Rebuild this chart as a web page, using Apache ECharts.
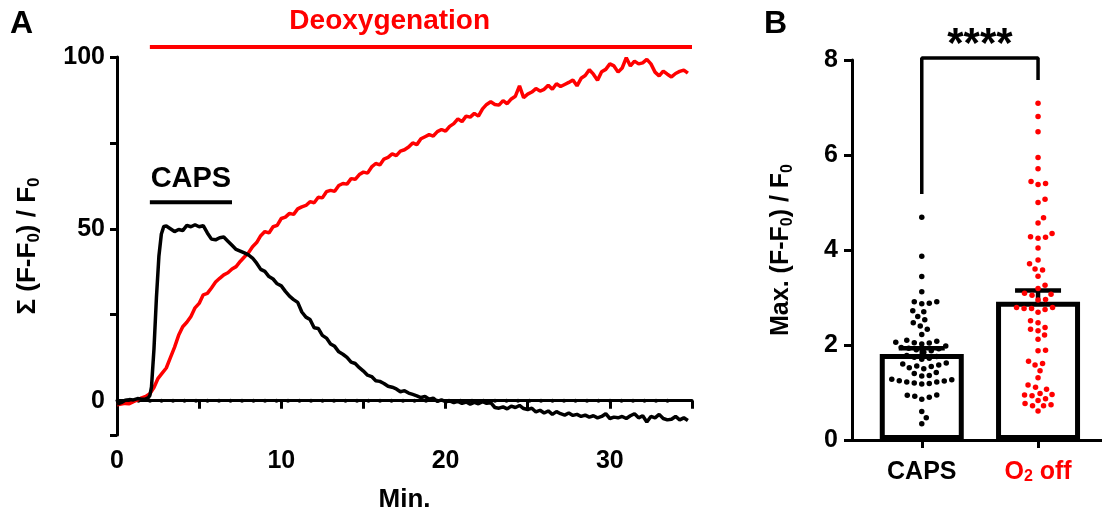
<!doctype html>
<html>
<head>
<meta charset="utf-8">
<title>Deoxygenation vs CAPS</title>
<script src="https://cdn.jsdelivr.net/npm/echarts@6/dist/echarts.min.js"></script>
<style>
  html, body {margin:0; padding:0; background:#fff;}
  #main {width:1102px; height:518px;}
</style>
</head>
<body>
<div id="main"></div>
<script>
"use strict";
// ---- panel A : cumulative (F-F0)/F0 over time ----
var deoxMin = [
  0,0.25,0.5,0.75, 1,1.25,1.5,1.75, 2,2.25,2.5,2.75, 3,3.25,3.5,3.75, 4,4.25,4.5,4.75,
  5,5.25,5.5,5.75, 6,6.25,6.5,6.75, 7,7.25,7.5,7.75, 8,8.25,8.5,8.75, 9,9.25,9.5,9.75,
  10,10.25,10.5,10.75, 11,11.25,11.5,11.75, 12,12.25,12.5,12.75, 13,13.25,13.5,13.75,
  14,14.25,14.5,14.75, 15,15.25,15.5,15.75, 16,16.25,16.5,16.75, 17,17.25,17.5,17.75,
  18,18.25,18.5,18.75, 19,19.25,19.5,19.75, 20,20.25,20.5,20.75, 21,21.25,21.5,21.75,
  22,22.25,22.5,22.75, 23,23.25,23.5,23.75, 24,24.25,24.5,24.75, 25,25.25,25.5,25.75,
  26,26.25,26.5,26.75, 27,27.25,27.5,27.75, 28,28.25,28.5,28.75, 29,29.25,29.5,29.75,
  30,30.25,30.5,30.75, 31,31.25,31.5,31.75, 32,32.25,32.5,32.75, 33,33.25,33.5,33.75,
  34,34.25,34.5,34.75
];
var deoxVal = [
  -1.2,-1.0,-0.8,-0.9, -0.3,0.2,0.8,1.2, 2.0,3.8,6.5,8.0, 9.5,12.5,15.5,19.0,
  21.5,22.8,24.5,27.0, 28.3,30.8,31.2,32.8, 34.5,35.6,36.6,37.2, 38.3,39.0,40.5,41.8,
  43.0,44.8,46.0,48.0, 49.2,48.8,50.6,51.0, 53.0,53.4,54.5,54.2, 55.8,56.4,56.8,57.9,
  57.6,59.2,59.0,60.8, 61.2,60.9,62.6,63.2, 63.0,64.6,64.4,65.8, 66.5,66.2,68.0,69.0,
  68.6,70.3,70.8,71.8, 71.3,72.6,73.0,73.8, 75.0,74.5,76.2,76.8, 77.4,77.0,78.3,78.9,
  78.4,79.8,80.6,82.0, 81.2,82.8,82.5,83.6, 82.8,84.9,86.2,87.0, 86.2,86.0,87.3,86.4,
  87.8,88.6,91.6,88.2, 89.2,89.8,90.8,90.1, 90.6,91.8,90.6,92.2, 91.4,92.0,92.6,93.3,
  91.6,93.8,94.6,96.3, 95.0,93.2,95.7,96.4, 98.0,97.4,95.6,96.8, 99.8,97.4,98.8,98.0,
  98.3,99.3,98.0,95.6, 94.5,95.9,95.0,94.2, 95.2,95.8,96.2,95.3
];
var capsMin = [
  0,0.25,0.5,0.75, 1,1.25,1.5,1.75, 1.9,2,2.1,2.25,2.4,2.55,2.7,2.85,
  3,3.25,3.5,3.75, 4,4.25,4.5,4.75, 5,5.25,5.5,5.75, 6,6.25,6.5,6.75, 7,7.25,7.5,7.75,
  8,8.25,8.5,8.75, 9,9.25,9.5,9.75, 10,10.25,10.5,10.75, 11,11.25,11.5,11.75,
  12,12.25,12.5,12.75, 13,13.25,13.5,13.75, 14,14.25,14.5,14.75, 15,15.25,15.5,15.75,
  16,16.25,16.5,16.75, 17,17.25,17.5,17.75, 18,18.25,18.5,18.75, 19,19.25,19.5,19.75,
  20,20.25,20.5,20.75, 21,21.25,21.5,21.75, 22,22.25,22.5,22.75, 23,23.25,23.5,23.75,
  24,24.25,24.5,24.75, 25,25.25,25.5,25.75, 26,26.25,26.5,26.75, 27,27.25,27.5,27.75,
  28,28.25,28.5,28.75, 29,29.25,29.5,29.75, 30,30.25,30.5,30.75, 31,31.25,31.5,31.75,
  32,32.25,32.5,32.75, 33,33.25,33.5,33.75, 34,34.25,34.5,34.75
];
var capsVal = [
  -1.0,-0.6,0.1,0.3, 0.2,0.6,0.4,0.5, 0.8,1.5,4.0,15.0,30.0,42.0,48.5,50.7,
  50.8,50.0,49.2,49.8, 49.5,51.0,50.6,51.2, 50.6,50.9,48.8,47.0, 46.8,47.4,47.6,46.4,
  45.2,44.0,43.5,43.0, 42.4,41.5,40.0,38.2, 37.6,36.1,35.4,34.0, 33.4,31.8,30.4,29.4,
  28.6,25.8,24.3,23.6, 21.2,21.0,19.0,18.2, 16.5,15.8,14.2,13.5, 12.6,11.2,10.8,9.6,
  8.6,7.4,7.0,5.8, 5.6,5.0,4.2,3.9, 3.4,2.6,2.9,2.2, 1.8,1.4,0.9,1.2, 0.4,0.7,-0.2,0.2,
  -0.3,-0.1,-0.6,-0.2, -0.8,-0.4,-1.0,-0.5, -0.9,-0.3,-0.8,-0.6, -2.0,-2.2,-1.8,-2.4,
  -1.6,-2.0,-1.4,-2.3, -2.6,-2.2,-3.3,-2.8, -3.6,-3.0,-4.0,-3.2, -3.8,-4.2,-3.6,-4.3,
  -4.0,-4.6,-4.2,-4.8, -4.4,-5.0,-4.6,-3.8, -5.2,-4.8,-5.0,-4.6, -5.2,-4.4,-3.8,-5.0,
  -4.4,-6.2,-4.6,-5.0, -4.0,-5.2,-5.6,-5.4, -4.6,-5.6,-5.0,-5.8
];
var capsPeriod = [2, 7];
var deoxPeriod = [2, 35];
var baseline = [0, 34];
var xTicksA = [0, 10, 20, 30];

// ---- panel B : max (F-F0)/F0 per cell ----
var groups = ['CAPS', 'O2 off'];
var capsMax = [
  4.69, 3.87, 3.44, 3.12, 2.91, 2.88, 2.91, 2.87, 2.72, 2.70, 2.60, 2.53, 2.47, 2.40,
  2.33, 2.22, 2.10, 2.06, 2.04, 2.08, 2.02, 2.05, 1.98, 1.95, 1.90, 1.92, 1.88, 1.85,
  1.93, 1.76, 1.72, 1.74, 1.70, 1.78, 1.62, 1.56, 1.58, 1.55, 1.60, 1.52, 1.50, 1.42,
  1.36, 1.40, 1.35, 1.28, 1.22, 1.25, 1.20, 1.24, 1.18, 1.27, 1.22, 1.19, 0.95, 0.92,
  0.86, 0.90, 0.94, 0.60, 0.47, 0.34
];
var o2Max = [
  7.09, 6.81, 6.49, 5.95, 5.71, 5.38, 5.44, 5.40, 5.00, 5.07, 4.68, 4.57, 4.35, 4.25,
  4.28, 4.27, 4.04, 3.79, 3.71, 3.58, 3.60, 3.45, 3.26, 3.19, 3.05, 3.07, 3.09, 2.95,
  2.96, 2.79, 2.77, 2.79, 2.75, 2.77, 2.69, 2.47, 2.51, 2.37, 2.30, 2.33, 2.21, 2.12,
  1.88, 1.89, 1.66, 1.58, 1.61, 1.46, 1.31, 1.16, 1.07, 1.11, 0.93, 0.83, 0.72, 0.95,
  0.96, 0.98, 0.87, 0.74, 0.77, 0.72, 0.61
];
var barMean = [1.81, 2.91];
var barSemLow = [1.72, 2.72];
var barSemHigh = [1.93, 3.15];

var FONT = 'Liberation Sans';
var RED = '#ff0000';

// text notes placed in data coordinates: [x, y, text, colour, size]
var notesA = [[16.6, 110.5, 'Deoxygenation', RED, 28], [4.5, 64.5, 'CAPS', '#000', 29]];
var notesB = [[1.5, 8.3, '****', '#000', 42]];

function zip(a, b) {
  var out = [];
  for (var i = 0; i < a.length; i++) out.push([a[i], b[i]]);
  return out;
}
var bold = function (size, color) {
  return {fontFamily: FONT, fontWeight: 'bold', fontSize: size, color: color || '#000'};
};
function noteSeries(axis, notes) {
  return {
    type: 'custom', xAxisIndex: axis, yAxisIndex: axis, silent: true, clip: false,
    data: notes.map(function (n, i) { return [n[0], n[1], i]; }),
    renderItem: function (params, api) {
      var n = notes[api.value(2)];
      var p = api.coord([n[0], n[1]]);
      return {type: 'text', x: p[0], y: p[1], style: {
        text: n[2], fill: n[3], align: 'center', verticalAlign: 'middle',
        font: 'bold ' + n[4] + 'px "' + FONT + '"'}};
    }
  };
}

var option = {
  animation: false,
  backgroundColor: '#fff',
  title: [
    {text: 'A', left: 10, top: 8, padding: 0, textStyle: bold(32)},
    {text: 'B', left: 764, top: 8, padding: 0, textStyle: bold(32)}
  ],
  grid: [
    {left: 117, top: 57, width: 575, height: 379},
    {left: 852, top: 60, width: 250, height: 380}
  ],
  xAxis: [{
    gridIndex: 0, type: 'value', min: 0, max: 35, interval: 5,
    name: 'Min.', nameLocation: 'middle', nameGap: 52, nameTextStyle: bold(26),
    axisLine: {lineStyle: {color: '#000', width: 3}},
    axisTick: {length: 8, lineStyle: {color: '#000', width: 3}},
    axisLabel: Object.assign({margin: 14, customValues: xTicksA}, bold(25)),
    splitLine: {show: false}
  }, {
    gridIndex: 1, type: 'value', min: 0.4, max: 2.55,
    axisLine: {lineStyle: {color: '#000', width: 3}},
    axisTick: {length: 8, customValues: [1, 2], lineStyle: {color: '#000', width: 3}},
    axisLabel: {
      margin: 20, customValues: [1, 2],
      formatter: function (v) { return v === 1 ? '{k|' + groups[0] + '}' : '{r|O}{rs|2}{r| off}'; },
      rich: {
        k: bold(25),
        r: bold(25, RED),
        rs: Object.assign(bold(16, RED), {verticalAlign: 'bottom', lineHeight: 16})
      }
    },
    splitLine: {show: false}
  }],
  yAxis: [{
    gridIndex: 0, type: 'value', min: -10, max: 100,
    name: '{n|Σ (F-F}{s|0}{n|) / F}{s|0}', nameLocation: 'middle', nameGap: 74, nameRotate: 90,
    nameTextStyle: {
      rich: {
        n: Object.assign(bold(26), {lineHeight: 30}),
        s: Object.assign(bold(17), {verticalAlign: 'bottom', lineHeight: 17})
      }
    },
    axisLine: {lineStyle: {color: '#000', width: 3}},
    axisTick: {length: 7, customValues: [-10, 25, 50, 75, 100], lineStyle: {color: '#000', width: 3}},
    axisLabel: Object.assign({margin: 12, customValues: [0, 50, 100]}, bold(25)),
    splitLine: {show: false}
  }, {
    gridIndex: 1, type: 'value', min: 0, max: 8, interval: 2,
    name: '{n|Max. (F-F}{s|0}{n|) / F}{s|0}', nameLocation: 'middle', nameGap: 56, nameRotate: 90,
    nameTextStyle: {
      rich: {
        n: Object.assign(bold(25), {lineHeight: 30}),
        s: Object.assign(bold(16), {verticalAlign: 'bottom', lineHeight: 16})
      }
    },
    axisLine: {lineStyle: {color: '#000', width: 3}},
    axisTick: {length: 8, lineStyle: {color: '#000', width: 3}},
    axisLabel: Object.assign({margin: 14}, bold(25)),
    splitLine: {show: false}
  }],
  series: [
    // dotted zero line, drawn as a row of small round dots
    {type: 'custom', xAxisIndex: 0, yAxisIndex: 0, silent: true, z: 1,
      data: [[baseline[0], baseline[1]]],
      renderItem: function (params, api) {
        var a = api.coord([api.value(0), 0]);
        var b = api.coord([api.value(1), 0]);
        var dots = [];
        for (var x = a[0] + 10; x <= b[0] + 0.5; x += 11.5) {
          dots.push({type: 'circle', shape: {cx: x, cy: a[1], r: 2}, style: {fill: '#000'}});
        }
        return {type: 'group', children: dots};
      }},
    {type: 'line', xAxisIndex: 0, yAxisIndex: 0, symbol: 'none', z: 2,
      data: zip(deoxMin, deoxVal), lineStyle: {color: RED, width: 3.5}},
    {type: 'line', xAxisIndex: 0, yAxisIndex: 0, symbol: 'none', z: 2,
      data: zip(capsMin, capsVal), lineStyle: {color: '#000', width: 3.5}},
    // treatment bars
    {type: 'line', xAxisIndex: 0, yAxisIndex: 0, symbol: 'none', clip: false,
      data: [[deoxPeriod[0], 102.9], [deoxPeriod[1], 102.9]], lineStyle: {color: RED, width: 4}},
    {type: 'line', xAxisIndex: 0, yAxisIndex: 0, symbol: 'none', clip: false,
      data: [[capsPeriod[0], 57.7], [capsPeriod[1], 57.7]], lineStyle: {color: '#000', width: 4}},
    noteSeries(0, notesA),
    // panel B bars
    {type: 'bar', xAxisIndex: 1, yAxisIndex: 1, barWidth: 84,
      data: [[1, barMean[0]], [2, barMean[1]]],
      itemStyle: {color: '#fff', borderColor: '#000', borderWidth: 5}},
    {type: 'custom', xAxisIndex: 1, yAxisIndex: 1,
      data: [[1, barSemLow[0], barSemHigh[0]], [2, barSemLow[1], barSemHigh[1]]],
      encode: {x: 0, y: [1, 2]},
      renderItem: function (params, api) {
        var lo = api.coord([api.value(0), api.value(1)]);
        var hi = api.coord([api.value(0), api.value(2)]);
        var w = 23, st = {stroke: '#000', lineWidth: 4.5};
        return {type: 'group', children: [
          {type: 'line', shape: {x1: lo[0], y1: lo[1], x2: hi[0], y2: hi[1]}, style: st},
          {type: 'line', shape: {x1: lo[0] - w, y1: lo[1], x2: lo[0] + w, y2: lo[1]}, style: st},
          {type: 'line', shape: {x1: hi[0] - w, y1: hi[1], x2: hi[0] + w, y2: hi[1]}, style: st}
        ]};
      }},
    {id: 'capsDots', type: 'scatter', xAxisIndex: 1, yAxisIndex: 1, symbolSize: 5.5,
      itemStyle: {color: '#000', opacity: 1}, data: []},
    {id: 'o2Dots', type: 'scatter', xAxisIndex: 1, yAxisIndex: 1, symbolSize: 5.5,
      itemStyle: {color: RED, opacity: 1}, data: []},
    // significance bracket
    {type: 'line', xAxisIndex: 1, yAxisIndex: 1, symbol: 'none', clip: false,
      data: [[1, 5.18], [1, 8.04], [2, 8.04], [2, 7.58]], lineStyle: {color: '#000', width: 3.5}},
    noteSeries(1, notesB)
  ]
};

var chart = echarts.init(document.getElementById('main'));
chart.setOption(option);

// beeswarm: spread dots sideways so they do not overlap (in pixel space)
var dotGap = 7.4;
function swarm(vals, cx) {
  var order = vals.map(function (v, i) { return i; });
  order.sort(function (a, b) { return vals[a] - vals[b]; });
  var placed = [], res = [];
  var finder = {xAxisIndex: 1, yAxisIndex: 1};
  order.forEach(function (i) {
    var p = chart.convertToPixel(finder, [cx, vals[i]]);
    var off = 0;
    for (var k = 0; k < 400; k++) {
      off = (k % 2 ? 1 : -1) * Math.ceil(k / 2) * 0.5;
      var free = placed.every(function (q) {
        var dx = p[0] + off - q[0], dy = p[1] - q[1];
        return dx * dx + dy * dy >= dotGap * dotGap;
      });
      if (free) break;
    }
    var q = [p[0] + off, p[1]];
    placed.push(q);
    res.push([chart.convertFromPixel(finder, q)[0], vals[i]]);
  });
  return res;
}
chart.setOption({series: [
  {id: 'capsDots', data: swarm(capsMax, 1)},
  {id: 'o2Dots', data: swarm(o2Max, 2)}
]});
</script>
</body>
</html>
